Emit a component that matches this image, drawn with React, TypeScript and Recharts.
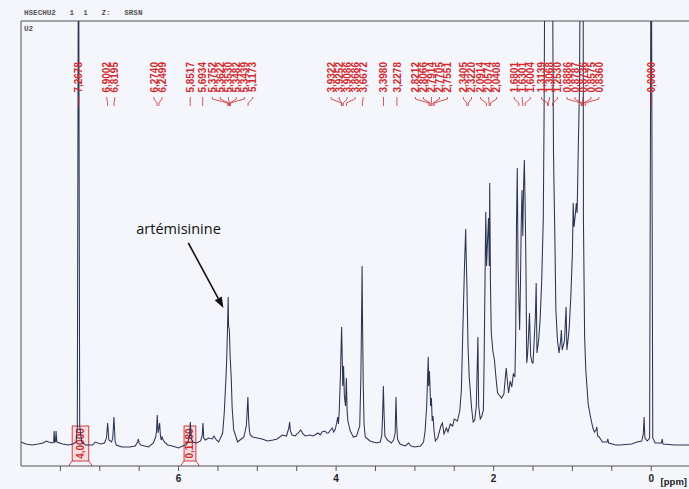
import * as React from "react"
import {
  LineChart,
  Line,
  XAxis,
  YAxis,
  ReferenceLine,
  ReferenceArea,
  ReferenceDot,
} from "recharts"

// spectrum: [ppm, height]
const aromatic: [number, number][] = [
  [8.0, 24], [7.94, 22], [7.86, 21], [7.78, 22], [7.72, 23], [7.68, 25], [7.65, 24], [7.6, 23],
  [7.585, 24], [7.58, 35], [7.57, 24], [7.56, 25], [7.555, 35], [7.545, 24], [7.47, 22], [7.4, 21],
  [7.34, 22], [7.3, 24], [7.285, 40], [7.27, 600], [7.255, 40], [7.23, 24], [7.18, 21], [7.09, 21],
  [7.06, 24], [6.99, 22], [6.94, 23], [6.915, 28], [6.9, 43], [6.885, 26], [6.85, 24], [6.835, 28],
  [6.82, 49], [6.805, 24], [6.79, 21], [6.72, 19], [6.62, 19], [6.55, 20], [6.52, 24], [6.51, 27],
  [6.5, 23], [6.48, 21], [6.38, 19], [6.32, 23], [6.29, 29], [6.28, 35], [6.27, 51], [6.26, 33],
  [6.25, 38], [6.24, 43], [6.23, 30], [6.22, 26], [6.21, 29], [6.2, 27], [6.18, 24], [6.14, 21],
  [6.08, 20], [6.0, 18], [5.95, 20], [5.91, 21], [5.88, 24], [5.86, 30], [5.85, 44], [5.84, 28],
  [5.82, 24], [5.77, 23],
]

const olefinic: [number, number][] = [
  [5.72, 25], [5.7, 30], [5.69, 43], [5.68, 28], [5.66, 26], [5.62, 28], [5.57, 27], [5.55, 30],
  [5.52, 26], [5.49, 24], [5.44, 33], [5.42, 53], [5.4, 85], [5.39, 103], [5.38, 133], [5.375, 150],
  [5.37, 169], [5.365, 140], [5.355, 136], [5.345, 110], [5.33, 86], [5.32, 59], [5.3, 36], [5.25, 24],
  [5.22, 26], [5.17, 29], [5.14, 40], [5.13, 53], [5.12, 69], [5.11, 46], [5.1, 35], [5.09, 31],
  [5.06, 29], [5.0, 28],
]

const oxygenated: [number, number][] = [
  [4.94, 27], [4.87, 25], [4.8, 26], [4.75, 27], [4.68, 31], [4.63, 30], [4.6, 38], [4.59, 44],
  [4.58, 35], [4.56, 31], [4.52, 30], [4.48, 33], [4.45, 36], [4.42, 32], [4.39, 30], [4.33, 31],
  [4.29, 30], [4.23, 33], [4.2, 31], [4.18, 34], [4.14, 35], [4.12, 33], [4.1, 33], [4.07, 36],
  [4.05, 38], [4.03, 34], [4.01, 37], [3.99, 44], [3.98, 49], [3.97, 42], [3.96, 55], [3.945, 90],
  [3.93, 139], [3.925, 120], [3.915, 80], [3.905, 100], [3.895, 70], [3.88, 60], [3.87, 88], [3.86, 55],
  [3.85, 45], [3.83, 38], [3.82, 35], [3.8, 32], [3.78, 29], [3.74, 30], [3.7, 40], [3.685, 90],
  [3.675, 160], [3.67, 200], [3.665, 150], [3.655, 80], [3.645, 42], [3.63, 29], [3.57, 25], [3.49, 23],
  [3.44, 24], [3.42, 30], [3.41, 50], [3.4, 80], [3.39, 50], [3.38, 30], [3.35, 26], [3.3, 23],
  [3.27, 26], [3.25, 33], [3.24, 69], [3.23, 40], [3.22, 27], [3.19, 22], [3.12, 20], [3.08, 23],
  [3.05, 20], [3.0, 19], [2.93, 20], [2.89, 24], [2.87, 35],
]

const aliphatic: [number, number][] = [
  [2.85, 60], [2.84, 85], [2.83, 109], [2.825, 80], [2.815, 95], [2.8, 60], [2.79, 68], [2.78, 45],
  [2.77, 50], [2.755, 34], [2.74, 25], [2.71, 28], [2.67, 40], [2.65, 43], [2.63, 32], [2.6, 38],
  [2.58, 34], [2.55, 42], [2.52, 40], [2.5, 47], [2.46, 45], [2.43, 55], [2.41, 75], [2.39, 139],
  [2.37, 200], [2.355, 237], [2.35, 215], [2.34, 183], [2.325, 120], [2.31, 89], [2.28, 58], [2.26, 44],
  [2.24, 46], [2.22, 60], [2.2, 129], [2.19, 60], [2.17, 47], [2.15, 50], [2.13, 56], [2.12, 110],
  [2.1, 254], [2.09, 200], [2.075, 230], [2.065, 248], [2.055, 200], [2.05, 283], [2.04, 180], [2.03, 133],
  [2.01, 115], [1.99, 106], [1.97, 88], [1.95, 73], [1.92, 70], [1.9, 68], [1.87, 72], [1.85, 90],
  [1.84, 98], [1.82, 80], [1.81, 73], [1.79, 85], [1.77, 79], [1.75, 92], [1.73, 89], [1.72, 130],
  [1.71, 240], [1.7, 298], [1.69, 200], [1.67, 136], [1.66, 180], [1.65, 240], [1.64, 276], [1.63, 230],
  [1.62, 280], [1.61, 306], [1.6, 260], [1.59, 200], [1.58, 103], [1.57, 110], [1.56, 125], [1.545, 153],
  [1.53, 110], [1.51, 103], [1.5, 103],
]

const highField: [number, number][] = [
  [1.47, 150], [1.46, 183], [1.45, 113], [1.43, 125], [1.41, 146], [1.39, 185], [1.37, 246], [1.36, 346],
  [1.345, 600], [1.3, 800], [1.26, 600], [1.24, 313], [1.22, 213], [1.21, 156], [1.19, 126], [1.17, 113],
  [1.15, 125], [1.14, 136], [1.13, 116], [1.11, 122], [1.1, 126], [1.08, 159], [1.07, 116], [1.05, 130],
  [1.04, 139], [1.02, 170], [1.0, 213], [0.99, 263], [0.98, 239], [0.965, 250], [0.95, 263], [0.94, 253],
  [0.925, 320], [0.91, 379], [0.895, 600], [0.875, 700], [0.865, 600], [0.86, 246], [0.845, 129], [0.83, 96],
  [0.815, 79], [0.8, 62], [0.77, 49], [0.74, 38], [0.72, 34], [0.7, 36], [0.69, 39], [0.68, 30],
  [0.66, 29], [0.62, 24], [0.56, 24], [0.55, 27], [0.54, 23], [0.45, 21], [0.39, 21], [0.25, 22],
  [0.18, 24], [0.12, 25], [0.1, 32], [0.09, 49], [0.08, 28], [0.05, 25], [0.02, 28], [0.0, 600],
  [-0.02, 28], [-0.05, 23], [-0.13, 23], [-0.14, 27], [-0.15, 22], [-0.3, 21], [-0.48, 21],
]

const peakShifts = [
  7.2678, 6.9002, 6.8195, 6.274, 6.2499, 5.8517, 5.6934, 5.3752, 5.3622, 5.353, 5.3482, 5.3439,
  5.1173, 3.9322, 3.9252, 3.9086, 3.8686, 3.6672, 3.398, 3.2278, 2.8212, 2.8066, 2.7914, 2.7705,
  2.7551, 2.3405, 2.322, 2.0914, 2.0574, 2.0408, 1.6801, 1.6301, 1.6004, 1.3139, 1.3068, 1.253,
  0.8886, 0.8787, 0.8736, 0.8575, 0.836, 0.0,
]

const integrals = [
  { from: 7.35, to: 7.14, value: 4.0 },
  { from: 5.93, to: 5.78, value: 0.118 },
]

const xTicks = [7.5, 7, 6.5, 6, 5.5, 5, 4.5, 4, 3.5, 3, 2.5, 2, 1.5, 1, 0.5, 0]

const X_MIN = -0.48
const X_MAX = 8.0
const W = 689
const H = 489
const M_LEFT = 21
const M_TOP = 21
const AXIS_H = 23
const PX_PER_PPM = (W - M_LEFT) / (X_MAX - X_MIN)

const RED = "#d22a2e"
const INK = "#2b3553"
const fmt = (v: number) => v.toFixed(4).replace(".", ",")

const spectrum = [...aromatic, ...olefinic, ...oxygenated, ...aliphatic, ...highField].map(([ppm, v]) => ({ ppm, v }))

// spread crowded peak labels apart, centring each crowded group on its peaks
function spreadLabels(shifts: number[], gap: number) {
  const desired = shifts.map((s) => (X_MAX - s) * PX_PER_PPM)
  let groups = desired.map((d, i) => ({ idx: [i], center: d }))
  let merged = true
  while (merged) {
    merged = false
    for (let g = 0; g < groups.length - 1; g++) {
      const a = groups[g]
      const b = groups[g + 1]
      const aEnd = a.center + ((a.idx.length - 1) * gap) / 2
      const bStart = b.center - ((b.idx.length - 1) * gap) / 2
      if (bStart - aEnd < gap) {
        const idx = [...a.idx, ...b.idx]
        const center = idx.reduce((s, i) => s + desired[i], 0) / idx.length
        groups.splice(g, 2, { idx, center })
        merged = true
        break
      }
    }
  }
  const offsets: number[] = []
  groups.forEach((grp) =>
    grp.idx.forEach((i, k) => {
      offsets[i] = grp.center - ((grp.idx.length - 1) * gap) / 2 + k * gap - desired[i]
    })
  )
  return offsets
}

const labelOffsets = spreadLabels(peakShifts, 8)

function PeakLabel(props: any) {
  const { viewBox, dx, text } = props
  const px = viewBox.x
  const top = viewBox.y
  const lx = px + dx
  return (
    <g>
      <text
        x={lx + 3.6}
        y={top + 41}
        transform={`rotate(-90 ${lx + 3.6} ${top + 41})`}
        textAnchor="end"
        fill={RED}
        fontSize={10}
        fontWeight={700}
        fontFamily="'Liberation Sans', Arial, sans-serif"
      >
        {text}
      </text>
      <polyline
        points={`${lx},${top + 76} ${lx},${top + 78} ${px},${top + 82} ${px},${top + 85}`}
        fill="none"
        stroke={RED}
        strokeWidth={0.8}
      />
    </g>
  )
}

function IntegralBox(props: any) {
  const { x, y, width, height, label } = props
  const bottom = y + height
  const boxBottom = bottom - 5
  const cx = x + width / 2
  const cy = (y + boxBottom) / 2
  return (
    <g>
      <rect x={x} y={y} width={width} height={boxBottom - y} fill="#f3c9c9" fillOpacity={0.55} stroke={RED} strokeWidth={0.9} />
      <polyline points={`${x},${boxBottom} ${x - 3},${bottom - 1} ${x - 3},${bottom}`} fill="none" stroke={RED} strokeWidth={0.9} />
      <polyline
        points={`${x + width},${boxBottom} ${x + width + 3},${bottom - 1} ${x + width + 3},${bottom}`}
        fill="none"
        stroke={RED}
        strokeWidth={0.9}
      />
      <text
        x={cx}
        y={cy}
        transform={`rotate(-90 ${cx} ${cy})`}
        textAnchor="middle"
        dominantBaseline="central"
        fill={RED}
        fontSize={10}
        fontWeight={700}
        fontFamily="'Liberation Sans', Arial, sans-serif"
      >
        {label}
      </text>
    </g>
  )
}

function Arrow(props: any) {
  const x1 = props.x1 ?? props.points?.[0]?.x
  const y1 = props.y1 ?? props.points?.[0]?.y
  const x2 = props.x2 ?? props.points?.[1]?.x
  const y2 = props.y2 ?? props.points?.[1]?.y
  if (x1 == null) return null
  const ang = Math.atan2(y2 - y1, x2 - x1)
  const len = 11
  const half = 4
  const bx = x2 - len * Math.cos(ang)
  const by = y2 - len * Math.sin(ang)
  const p1 = `${bx + half * Math.sin(ang)},${by - half * Math.cos(ang)}`
  const p2 = `${bx - half * Math.sin(ang)},${by + half * Math.cos(ang)}`
  return (
    <g>
      <line x1={x1} y1={y1} x2={bx} y2={by} stroke="#111" strokeWidth={1.6} />
      <polygon points={`${x2},${y2} ${p1} ${p2}`} fill="#111" />
    </g>
  )
}

const PpmLabel = (props: any) => {
  const { viewBox } = props
  return (
    <text
      x={viewBox.x + viewBox.width - 2}
      y={viewBox.y + 19}
      textAnchor="end"
      fill="#222"
      fontSize={9.5}
      fontWeight={700}
      fontFamily="'Liberation Sans', Arial, sans-serif"
    >
      [ppm]
    </text>
  )
}

export default function App() {
  return (
    <div style={{ position: "absolute", left: 0, top: 0, width: W, height: H, background: "#f4f6fb", overflow: "hidden" }}>
      <div
        style={{
          position: "absolute",
          left: 24,
          top: 9,
          fontFamily: "'Liberation Mono', 'DejaVu Sans Mono', monospace",
          fontSize: 7.6,
          fontWeight: 700,
          color: "#555",
          whiteSpace: "pre",
          lineHeight: "9px",
        }}
      >
        {"HSECHU2   1  1   Z:   SRSN"}
      </div>
      <div
        style={{
          position: "absolute",
          left: 24,
          top: 25,
          fontFamily: "'Liberation Mono', 'DejaVu Sans Mono', monospace",
          fontSize: 7.6,
          fontWeight: 700,
          color: "#555",
          lineHeight: "9px",
        }}
      >
        U2
      </div>
      <LineChart width={W} height={H} data={spectrum} margin={{ top: M_TOP, left: M_LEFT, right: 0, bottom: 0 }}>
        <XAxis
          dataKey="ppm"
          type="number"
          domain={[X_MIN, X_MAX]}
          reversed
          allowDataOverflow
          ticks={xTicks}
          interval={0}
          height={AXIS_H}
          tickSize={5}
          tickMargin={4}
          tickFormatter={(v: number) => (v % 2 === 0 ? String(v) : "")}
          tick={{ fill: "#222", fontSize: 10, fontWeight: 700, fontFamily: "'Liberation Sans', Arial, sans-serif" }}
          axisLine={{ stroke: "#555" }}
          tickLine={{ stroke: "#555" }}
          label={<PpmLabel />}
        />
        <YAxis hide type="number" domain={[0, 445]} allowDataOverflow />
        <ReferenceLine y={445} stroke="#555" strokeWidth={1} />
        <ReferenceLine x={X_MAX} stroke="#555" strokeWidth={1} />
        {integrals.map((it) => (
          <ReferenceArea
            key={it.value}
            x1={it.from}
            x2={it.to}
            y1={0}
            y2={40}
            shape={(p: any) => <IntegralBox {...p} label={fmt(it.value)} />}
          />
        ))}
        <Line
          type="linear"
          dataKey="v"
          stroke={INK}
          strokeWidth={1.05}
          dot={false}
          activeDot={false}
          isAnimationActive={false}
        />
        {peakShifts.map((s, i) => (
          <ReferenceLine
            key={s}
            x={s}
            stroke="none"
            ifOverflow="visible"
            label={(p: any) => <PeakLabel {...p} dx={labelOffsets[i]} text={fmt(s)} />}
          />
        ))}
        <ReferenceLine
          segment={[
            { x: 5.876, y: 223 },
            { x: 5.43, y: 158 },
          ]}
          ifOverflow="visible"
          shape={(p: any) => <Arrow {...p} />}
        />
        <ReferenceDot
          x={6.0}
          y={238}
          r={0}
          fill="none"
          stroke="none"
          ifOverflow="visible"
          label={(p: any) => (
            <text
              x={p.viewBox.x + (p.viewBox.width || 0) / 2}
              y={p.viewBox.y + (p.viewBox.height || 0) / 2}
              textAnchor="middle"
              dominantBaseline="central"
              fill="#111"
              fontSize={14.5}
              fontFamily="'Open Sans', 'Liberation Sans', sans-serif"
            >
              artémisinine
            </text>
          )}
        />
      </LineChart>
    </div>
  )
}
